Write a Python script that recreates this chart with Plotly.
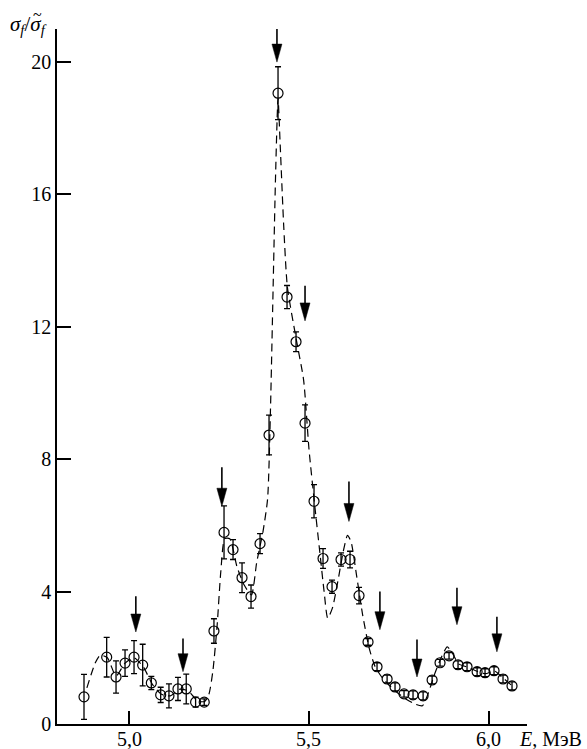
import plotly.graph_objects as go

# ---- measured data (E in MeV, ratio sigma_f / sigma_f~) ----
energy = [4.875, 4.938, 4.964, 4.989, 5.014, 5.038, 5.062, 5.088, 5.111, 5.136,
          5.159, 5.185, 5.209, 5.236, 5.264, 5.289, 5.314, 5.339, 5.364, 5.389,
          5.414, 5.439, 5.464, 5.489, 5.514, 5.539, 5.564, 5.589, 5.614, 5.639,
          5.664, 5.689, 5.717, 5.739, 5.764, 5.789, 5.817, 5.842, 5.864, 5.889,
          5.914, 5.939, 5.967, 5.989, 6.014, 6.039, 6.064]
ratio = [0.82, 2.02, 1.42, 1.84, 2.02, 1.78, 1.24, 0.88, 0.85, 1.06,
         1.06, 0.66, 0.66, 2.81, 5.79, 5.27, 4.42, 3.85, 5.45, 8.73,
         19.06, 12.9, 11.55, 9.09, 6.73, 5.0, 4.15, 4.97, 4.97, 3.88,
         2.48, 1.73, 1.36, 1.12, 0.91, 0.88, 0.85, 1.33, 1.85, 2.06,
         1.79, 1.73, 1.58, 1.55, 1.61, 1.36, 1.15]
ratio_err = [0.68, 0.6, 0.49, 0.4, 0.5, 0.63, 0.2, 0.23, 0.36, 0.35,
             0.45, 0.15, 0.1, 0.37, 0.8, 0.3, 0.45, 0.35, 0.3, 0.6,
             0.8, 0.35, 0.3, 0.55, 0.5, 0.3, 0.2, 0.2, 0.25, 0.25,
             0.1, 0.12, 0.12, 0.12, 0.1, 0.12, 0.12, 0.12, 0.1, 0.1,
             0.12, 0.12, 0.12, 0.12, 0.12, 0.12, 0.12]

# ---- dashed fit curve ----
curve_e = [4.883, 4.906, 4.92, 4.94, 4.964, 4.989, 5.014, 5.04, 5.065, 5.09,
           5.115, 5.14, 5.165, 5.19, 5.21, 5.222, 5.233, 5.245, 5.255, 5.266,
           5.28, 5.30, 5.32, 5.34, 5.355, 5.372, 5.385, 5.393, 5.40, 5.407,
           5.414, 5.42, 5.43, 5.44, 5.465, 5.485, 5.50, 5.515, 5.53, 5.542,
           5.552, 5.565, 5.58, 5.595, 5.607, 5.617, 5.632, 5.649, 5.667, 5.683,
           5.70, 5.72, 5.745, 5.77, 5.795, 5.815, 5.832, 5.847, 5.865, 5.884,
           5.898, 5.915, 5.94, 5.965, 5.99, 6.015, 6.04, 6.065]
curve_v = [1.09, 1.84, 2.08, 2.0, 1.45, 1.84, 2.0, 1.72, 1.2, 0.9,
           0.85, 1.05, 1.0, 0.7, 0.68, 0.9, 1.6, 3.0, 4.6, 5.6,
           5.6, 4.75, 4.2, 3.9, 4.9, 5.8, 6.8, 9.5, 13.0, 16.5,
           18.9, 17.5, 15.0, 13.2, 11.6, 10.4, 8.3, 6.7, 5.2, 4.0,
           3.2, 3.5, 4.3, 5.2, 5.7, 5.5, 4.5, 3.3, 2.3, 1.75,
           1.45, 1.2, 0.95, 0.75, 0.6, 0.55, 0.95, 1.45, 1.95, 2.33,
           2.15, 1.82, 1.72, 1.6, 1.52, 1.6, 1.38, 1.15]

# ---- resonance arrows ----
arrow_e = [5.019, 5.15, 5.258, 5.411, 5.489, 5.611, 5.697, 5.80, 5.911, 6.022]
arrow_top = [3.86, 2.58, 7.76, 21.1, 13.24, 7.33, 4.0, 2.55, 4.12, 3.24]
arrow_tip = [2.78, 1.58, 6.58, 20.0, 12.18, 6.12, 2.85, 1.42, 3.0, 2.18]

x_ticks = [5.0, 5.5, 6.0]
x_tick_text = ["5,0", "5,5", "6,0"]
y_ticks = [0, 4, 8, 12, 16, 20]

# ---- layout geometry ----
W, H = 587, 749
ML, MR, MT, MB = 57, 60, 29, 25
XR = [4.8, 6.1056]
YR = [0.0, 21.0]
PW, PH = W - ML - MR, H - MT - MB
px_x = PW / (XR[1] - XR[0])
px_y = PH / (YR[1] - YR[0])

FONT = "Liberation Serif, Times New Roman, serif"
FS = 20

fig = go.Figure()

fig.add_trace(go.Scatter(
    x=curve_e, y=curve_v, mode="lines",
    line=dict(color="black", width=1.2, dash="8px,5px", shape="spline", smoothing=0.6),
    hoverinfo="skip", showlegend=False))

fig.add_trace(go.Scatter(
    x=energy, y=ratio, mode="markers",
    marker=dict(symbol="circle-open", size=10, color="black", line=dict(width=1.2)),
    error_y=dict(type="data", array=ratio_err, visible=True, color="black",
                 thickness=1.3, width=3),
    showlegend=False))

shapes = []
head_len = 18 / px_y
head_half = 5.0 / px_x
for e, top, tip in zip(arrow_e, arrow_top, arrow_tip):
    shapes.append(dict(type="line", xref="x", yref="y", x0=e, x1=e,
                       y0=top, y1=tip + head_len * 0.5,
                       line=dict(color="black", width=1.6)))
    path = (f"M {e - head_half},{tip + head_len} L {e + head_half},{tip + head_len} "
            f"L {e},{tip} Z")
    shapes.append(dict(type="path", xref="x", yref="y", path=path,
                       fillcolor="black", line=dict(color="black", width=0.5)))

annotations = []
for tv, tt in zip(x_ticks, x_tick_text):
    annotations.append(dict(xref="x", yref="paper", x=tv, y=0,
                            xanchor="center", yanchor="top", yshift=-3,
                            showarrow=False, text=tt, borderpad=0,
                            font=dict(family=FONT, size=FS)))
annotations += [
    dict(xref="paper", yref="paper", x=(518 - ML) / PW, y=0,
         xanchor="left", yanchor="top", yshift=-3, showarrow=False, borderpad=0,
         text="<i>E</i>, МэВ", font=dict(family=FONT, size=FS)),
    dict(xref="paper", yref="paper", x=(8 - ML) / PW, y=1,
         xanchor="left", yanchor="middle", yshift=4, showarrow=False,
         text="<i>σ<sub>f</sub></i>/<i>σ<sub>f</sub></i>",
         font=dict(family=FONT, size=21)),
    dict(xref="paper", yref="paper", x=(31 - ML) / PW, y=1,
         xanchor="left", yanchor="middle", yshift=15, showarrow=False,
         text="~", font=dict(family=FONT, size=16)),
]

fig.update_layout(
    width=W, height=H,
    margin=dict(l=ML, r=MR, t=MT, b=MB, pad=0, autoexpand=False),
    paper_bgcolor="white", plot_bgcolor="white",
    font=dict(family=FONT, size=FS, color="black"),
    shapes=shapes,
    annotations=annotations,
    xaxis=dict(range=XR, tickvals=x_ticks, showticklabels=False, automargin=False,
               ticks="inside", ticklen=13, tickwidth=1.5, tickcolor="black",
               showline=True, linecolor="black", linewidth=1.5,
               showgrid=False, zeroline=False),
    yaxis=dict(range=YR, tickvals=y_ticks, automargin=False,
               ticks="inside", ticklen=14, tickwidth=1.5, tickcolor="black",
               showline=True, linecolor="black", linewidth=1.5,
               showgrid=False, zeroline=False,
               tickfont=dict(family=FONT, size=FS)),
)

fig.write_html("out.html")
